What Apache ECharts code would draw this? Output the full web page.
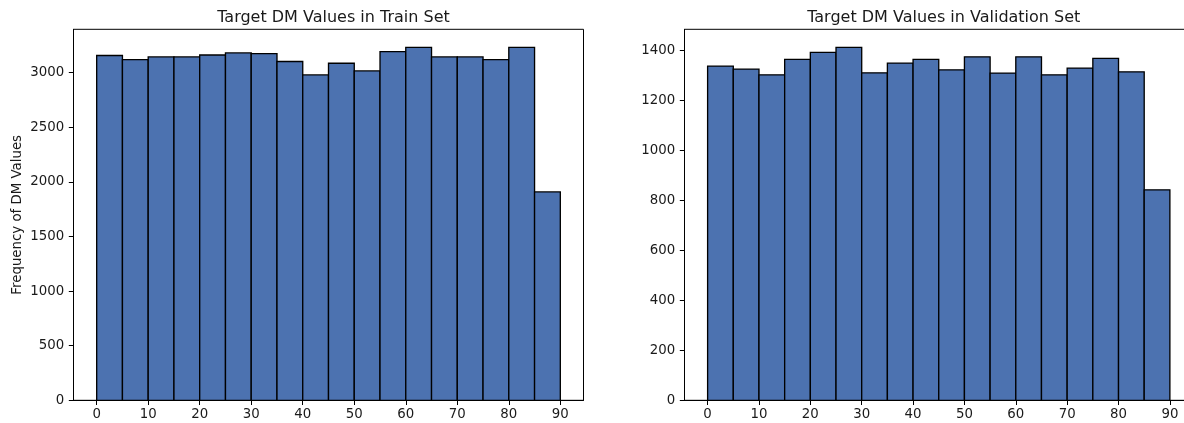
<!DOCTYPE html>
<html>
<head>
<meta charset="utf-8">
<script src="https://cdn.jsdelivr.net/npm/echarts@6/dist/echarts.min.js"></script>
<style>
html,body{margin:0;padding:0;background:#fff;}
#chart{width:1184px;height:423px;}
</style>
</head>
<body>
<div id="chart"></div>
<script>
// Bin edges (DM value bins of width 5)
const binStarts = [0, 5, 10, 15, 20, 25, 30, 35, 40, 45, 50, 55, 60, 65, 70, 75, 80, 85];
const binEnds   = [5, 10, 15, 20, 25, 30, 35, 40, 45, 50, 55, 60, 65, 70, 75, 80, 85, 90];
// Frequencies
const trainCounts = [3157, 3120, 3144, 3144, 3162, 3181, 3175, 3102, 2979, 3086, 3016, 3193, 3232, 3144, 3144, 3120, 3232, 1908];
const validCounts = [1337, 1325, 1302, 1364, 1392, 1412, 1310, 1349, 1364, 1322, 1374, 1309, 1374, 1302, 1329, 1368, 1314, 842];
// Tick labels
const xTicks = [0, 10, 20, 30, 40, 50, 60, 70, 80, 90];
const trainYTicks = [0, 500, 1000, 1500, 2000, 2500, 3000];
const validYTicks = [0, 200, 400, 600, 800, 1000, 1200, 1400];
const titles = ['Target DM Values in Train Set', 'Target DM Values in Validation Set'];
const yName = 'Frequency of DM Values';

const FONT = 'DejaVu Sans';
const TXT = '#1a1a1a';
const TICK_FS = 13.33;
const TITLE_FS = 16;

function histData(counts) {
  return counts.map((c, i) => [binStarts[i], binEnds[i], c]);
}

function renderBar(params, api) {
  const x0 = api.value(0), x1 = api.value(1), y = api.value(2);
  const p0 = api.coord([x0, y]);
  const p1 = api.coord([x1, 0]);
  return {
    type: 'rect',
    shape: { x: p0[0], y: p0[1], width: p1[0] - p0[0], height: p1[1] - p0[1] },
    style: { fill: '#4c72b0', stroke: '#000', lineWidth: 1.33 }
  };
}

function xAxis(gi) {
  return {
    type: 'value', gridIndex: gi, min: -4.5, max: 94.5,
    axisLine: { show: true, onZero: false, lineStyle: { color: '#000', width: 1 } },
    axisTick: { show: true, customValues: xTicks, length: 4.7, lineStyle: { color: '#000' } },
    axisLabel: { customValues: xTicks, margin: 8, fontFamily: FONT, fontSize: TICK_FS, color: TXT,
      formatter: v => String(v) },
    splitLine: { show: false }
  };
}

function yAxis(gi, max, ticks, name) {
  return {
    type: 'value', gridIndex: gi, min: 0, max: max,
    name: name || '', nameLocation: 'middle', nameGap: 49,
    nameTextStyle: { fontFamily: FONT, fontSize: TICK_FS, color: TXT },
    axisLine: { show: true, onZero: false, lineStyle: { color: '#000', width: 1 } },
    axisTick: { show: true, customValues: ticks, length: 4.7, lineStyle: { color: '#000' } },
    axisLabel: { customValues: ticks, margin: 9.3, fontFamily: FONT, fontSize: TICK_FS, color: TXT,
      formatter: v => String(v) },
    splitLine: { show: false }
  };
}

const chart = echarts.init(document.getElementById('chart'), null, { renderer: 'canvas' });
chart.setOption({
  animation: false,
  backgroundColor: '#fff',
  title: [
    { text: titles[0], left: 328.5, textAlign: 'center', top: 5,
      textStyle: { fontFamily: FONT, fontSize: TITLE_FS, fontWeight: 'normal', color: TXT } },
    { text: titles[1], left: 938.75, textAlign: 'center', top: 5,
      textStyle: { fontFamily: FONT, fontSize: TITLE_FS, fontWeight: 'normal', color: TXT } }
  ],
  grid: [
    { left: 73.5, top: 29.3, width: 510, height: 371, show: true, borderColor: '#000', borderWidth: 1,
      backgroundColor: 'transparent', containLabel: false, outerBoundsMode: 'none' },
    { left: 684.5, top: 29.3, width: 508.5, height: 371, show: true, borderColor: '#000', borderWidth: 1,
      backgroundColor: 'transparent', containLabel: false, outerBoundsMode: 'none' }
  ],
  xAxis: [xAxis(0), xAxis(1)],
  yAxis: [yAxis(0, 3397, trainYTicks, yName), yAxis(1, 1484, validYTicks)],
  series: [
    { type: 'custom', xAxisIndex: 0, yAxisIndex: 0, renderItem: renderBar,
      encode: { x: [0, 1], y: 2 }, data: histData(trainCounts) },
    { type: 'custom', xAxisIndex: 1, yAxisIndex: 1, renderItem: renderBar,
      encode: { x: [0, 1], y: 2 }, data: histData(validCounts) }
  ]
});
</script>
</body>
</html>
